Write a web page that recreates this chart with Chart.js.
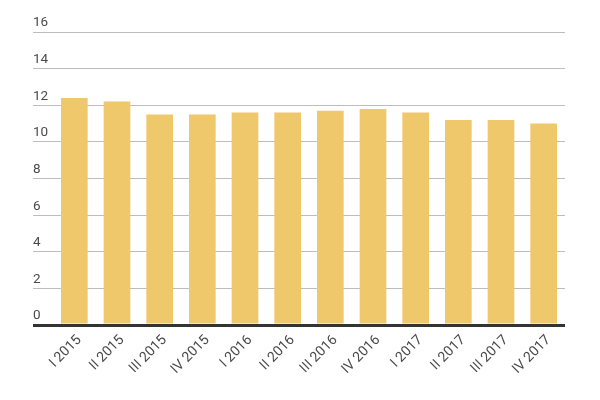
<!DOCTYPE html>
<html>
<head>
<meta charset="utf-8">
<script src="https://cdn.jsdelivr.net/npm/chart.js@4"></script>
<style>
  html, body { margin: 0; padding: 0; background: #fff; }
  #wrap { width: 600px; height: 400px; }
</style>
</head>
<body>
<div id="wrap"><canvas id="barChart"></canvas></div>
<script>
// Quarter labels and values
const quarters = ['I 2015', 'II 2015', 'III 2015', 'IV 2015', 'I 2016', 'II 2016',
                  'III 2016', 'IV 2016', 'I 2017', 'II 2017', 'III 2017', 'IV 2017'];
const values = [12.4, 12.2, 11.5, 11.5, 11.6, 11.6, 11.7, 11.8, 11.6, 11.2, 11.2, 11.0];
const yTicks = [0, 2, 4, 6, 8, 10, 12, 14, 16];

const barColor = '#EEC86A';
const textColor = '#4A4A4A';

const ctx = document.getElementById('barChart').getContext('2d');
const barChart = new Chart(ctx, {
    type: 'bar',
    data: {
        labels: quarters,
        datasets: [{
            data: values,
            backgroundColor: barColor,
            borderWidth: 0,
            barPercentage: 0.625,
            categoryPercentage: 1
        }]
    },
    options: {
        responsive: true,
        maintainAspectRatio: false,
        animation: false,
        layout: { padding: { top: 32, left: 33, right: 35, bottom: 0 } },
        plugins: {
            legend: { display: false },
            tooltip: { enabled: false }
        },
        scales: {
            x: {
                grid: { display: false, drawTicks: false },
                border: { display: false },
                ticks: {
                    color: textColor,
                    font: { family: 'Roboto', size: 14 },
                    minRotation: 45,
                    maxRotation: 45,
                    padding: 7,
                    labelOffset: 5
                },
                afterFit: (scale) => { scale.height = 75; }
            },
            y: {
                min: 0,
                max: 16,
                border: { display: false },
                afterBuildTicks: (scale) => { scale.ticks = yTicks.map(v => ({ value: v })); },
                afterFit: (scale) => { scale.width = 20; },
                grid: {
                    tickLength: 20,
                    color: (c) => c.tick && c.tick.value === 0 ? '#333333' : '#BDBDBD',
                    lineWidth: (c) => c.tick && c.tick.value === 0 ? 3 : 1
                },
                ticks: {
                    color: textColor,
                    font: { family: 'Roboto', size: 13.5 },
                    crossAlign: 'far',
                    labelOffset: -9
                }
            }
        }
    }
});
</script>
</body>
</html>
